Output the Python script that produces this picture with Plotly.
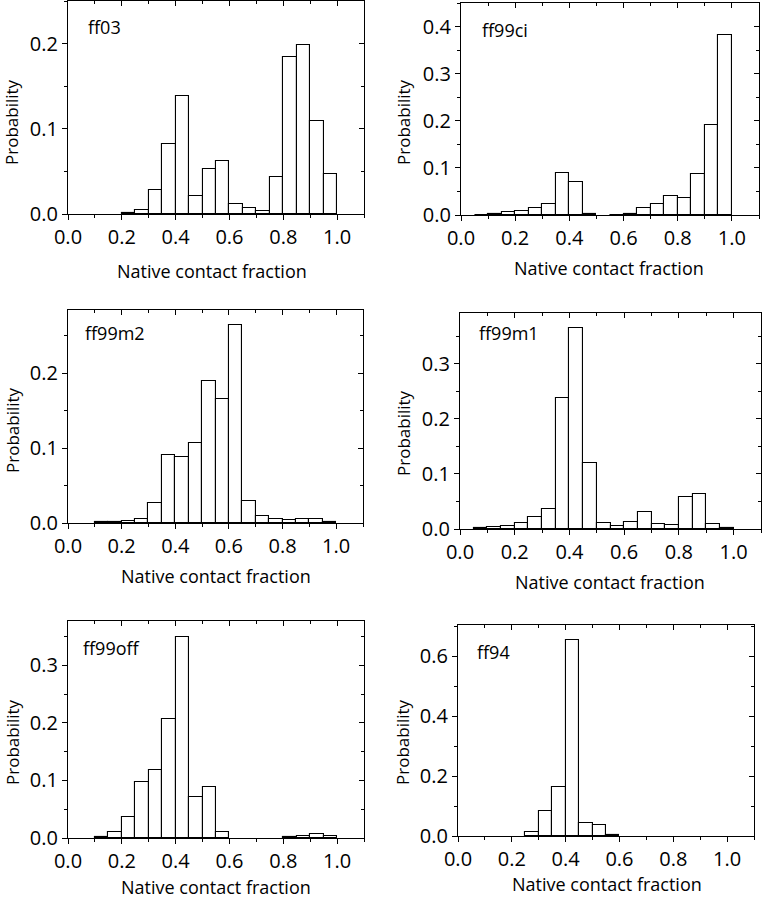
import plotly.graph_objects as go

# Bin centres (bins of width 0.05 from 0.0 to 1.0)
bin_centers = [0.025, 0.075, 0.125, 0.175, 0.225, 0.275, 0.325, 0.375, 0.425, 0.475,
               0.525, 0.575, 0.625, 0.675, 0.725, 0.775, 0.825, 0.875, 0.925, 0.975]
bin_width = 0.05

ff03 = [0, 0, 0, 0, 0.001, 0.005, 0.028, 0.082, 0.138, 0.021,
        0.053, 0.062, 0.012, 0.007, 0.004, 0.043, 0.184, 0.198, 0.109, 0.047]
ff99ci = [0, 0.001, 0.003, 0.007, 0.009, 0.014, 0.023, 0.089, 0.070, 0.002,
          0, 0.001, 0.002, 0.014, 0.023, 0.041, 0.037, 0.087, 0.192, 0.382]
ff99m2 = [0, 0, 0.001, 0.002, 0.003, 0.005, 0.027, 0.091, 0.088, 0.107,
          0.190, 0.165, 0.264, 0.030, 0.010, 0.005, 0.004, 0.005, 0.005, 0.002]
ff99m1 = [0, 0.001, 0.003, 0.005, 0.010, 0.022, 0.036, 0.238, 0.365, 0.120,
          0.010, 0.005, 0.012, 0.031, 0.009, 0.007, 0.058, 0.063, 0.009, 0.002]
ff99off = [0, 0, 0.001, 0.011, 0.036, 0.098, 0.119, 0.206, 0.350, 0.071,
           0.088, 0.010, 0, 0, 0, 0, 0.001, 0.004, 0.007, 0.003]
ff94 = [0, 0, 0, 0, 0, 0.012, 0.083, 0.165, 0.655, 0.045,
        0.038, 0.005, 0, 0, 0, 0, 0, 0, 0, 0]

panel_names = ["ff03", "ff99ci", "ff99m2", "ff99m1", "ff99off", "ff94"]
panel_values = [ff03, ff99ci, ff99m2, ff99m1, ff99off, ff94]
y_max = [0.25, 0.45, 0.284, 0.392, 0.377, 0.705]
y_dtick = [0.1, 0.1, 0.1, 0.1, 0.1, 0.2]
x_label = "Native contact fraction"
y_label = "Probability"

W, H = 762, 899
# panel frames in pixels: (left, right, top, bottom)
frames = [(68, 364, 1, 214), (461, 759, 3, 215),
          (68, 363, 310, 523), (460, 761, 313, 529),
          (68, 364, 621, 838), (458, 754, 625, 836)]
xtitle_pos = [(212, 271), (609, 268), (216, 576), (610, 582), (216, 887), (607, 884)]
ytitle_pos = [(12, 122), (404, 122), (12, 430), (404, 433), (12, 742), (402, 742)]
name_pos = [(86, 27), (480, 30), (83, 333), (477, 333), (81, 648), (475, 652)]

FONT = "Open Sans, DejaVu Sans, sans-serif"
fig = go.Figure()
layout = dict(width=W, height=H, margin=dict(l=0, r=0, t=0, b=0, pad=0, autoexpand=False),
              paper_bgcolor="white", plot_bgcolor="white", showlegend=False,
              font=dict(family=FONT, color="black"), bargap=0)
annotations = []

for i in range(6):
    k = i + 1
    ko = i + 7
    l, r, t, b = frames[i]
    xd = [l / W, r / W]
    yd = [1 - b / H, 1 - t / H]
    vals = [v if v else None for v in panel_values[i]]
    fig.add_trace(go.Bar(x=bin_centers, y=vals, width=bin_width,
                         marker=dict(color="white", line=dict(color="black", width=1.1)),
                         xaxis=f"x{k}", yaxis=f"y{k}", hoverinfo="x+y"))
    fig.add_trace(go.Scatter(x=[None], y=[None], xaxis=f"x{ko}", yaxis=f"y{ko}",
                             mode="markers", hoverinfo="skip"))
    common = dict(showgrid=False, zeroline=False, showline=True, linecolor="black",
                  linewidth=1.2, tickcolor="black", tickwidth=1.2, automargin=False)
    layout[f"xaxis{k}"] = dict(domain=xd, anchor=f"y{k}", range=[0, 1.1],
                               tick0=0, dtick=0.2, tickformat=".1f", ticks="outside",
                               ticklen=5, tickfont=dict(size=20), ticklabeloverflow="allow",
                               minor=dict(dtick=0.1, tick0=0, ticks="outside", ticklen=3,
                                          tickcolor="black"),
                               **common)
    layout[f"yaxis{k}"] = dict(domain=yd, anchor=f"x{k}", range=[0, y_max[i]],
                               tick0=0, dtick=y_dtick[i], tickformat=".1f", ticks="outside",
                               ticklen=5, tickfont=dict(size=20), ticklabeloverflow="allow",
                               minor=dict(dtick=y_dtick[i] / 2, tick0=0, ticks="outside",
                                          ticklen=3, tickcolor="black"),
                               **common)
    layout[f"xaxis{ko}"] = dict(overlaying=f"x{k}", anchor=f"y{k}", side="top",
                                range=[0, 1.1], tick0=0, dtick=0.2, ticks="inside",
                                ticklen=5, showticklabels=False,
                                minor=dict(dtick=0.1, tick0=0, ticks="inside", ticklen=3,
                                           tickcolor="black"),
                                **common)
    layout[f"yaxis{ko}"] = dict(overlaying=f"y{k}", anchor=f"x{k}", side="right",
                                range=[0, y_max[i]], tick0=0, dtick=y_dtick[i],
                                ticks="inside", ticklen=5, showticklabels=False,
                                minor=dict(dtick=y_dtick[i] / 2, tick0=0, ticks="inside",
                                           ticklen=3, tickcolor="black"),
                                **common)
    xt, yt = xtitle_pos[i]
    annotations.append(dict(text=x_label, x=xt / W, y=1 - yt / H, xref="paper", yref="paper",
                            xanchor="center", yanchor="middle", showarrow=False,
                            font=dict(size=18, family=FONT)))
    xt, yt = ytitle_pos[i]
    annotations.append(dict(text=y_label, x=xt / W, y=1 - yt / H, xref="paper", yref="paper",
                            xanchor="center", yanchor="middle", showarrow=False, textangle=-90,
                            font=dict(size=17, family=FONT)))
    xt, yt = name_pos[i]
    annotations.append(dict(text=panel_names[i], x=xt / W, y=1 - yt / H, xref="paper",
                            yref="paper", xanchor="left", yanchor="middle", showarrow=False,
                            font=dict(size=18, family=FONT)))

layout["annotations"] = annotations
fig.update_layout(**layout)
fig.write_html("out.html", config={"displayModeBar": False},
               post_script="document.body.style.margin='0';document.body.style.overflow='hidden';")
